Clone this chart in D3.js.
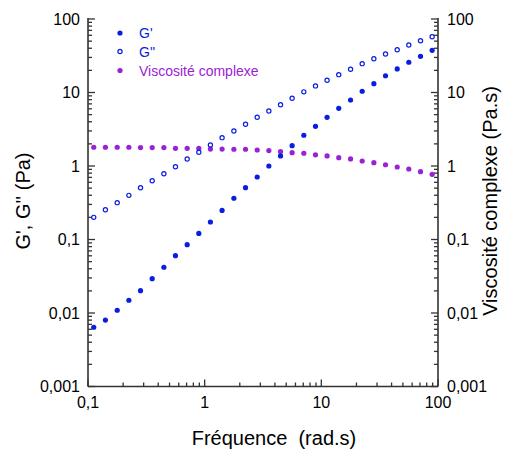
<!DOCTYPE html>
<html><head><meta charset="utf-8">
<script src="https://cdn.jsdelivr.net/npm/d3@7"></script>
<style>body{margin:0;background:#fff}svg{display:block;font-family:"Liberation Sans",Arial,sans-serif}</style>
</head><body><svg id="c" width="507" height="452"></svg>
<script>
const freq = [0.112,0.141,0.178,0.224,0.282,0.355,0.447,0.562,0.708,0.891,1.12,1.41,1.78,2.24,2.82,3.55,4.47,5.62,7.08,8.91,11.2,14.1,17.8,22.4,28.2,35.5,44.7,56.2,70.8,89.1];
const gPrime = [0.0064,0.0080,0.0109,0.0149,0.0201,0.0293,0.0419,0.0602,0.0850,0.121,0.173,0.249,0.364,0.507,0.708,1.00,1.37,1.89,2.62,3.47,4.60,6.10,7.91,10.4,13.2,16.9,20.9,25.8,31.1,37.5];
const gDouble = [0.200,0.254,0.317,0.399,0.507,0.631,0.785,0.978,1.245,1.54,1.93,2.43,2.99,3.69,4.60,5.60,6.82,8.34,10.2,12.3,14.7,17.5,20.7,24.7,28.8,33.4,38.2,44.3,50.7,57.4];
const viscosity = [1.80,1.80,1.80,1.80,1.78,1.78,1.78,1.74,1.74,1.74,1.70,1.70,1.69,1.69,1.65,1.62,1.57,1.52,1.49,1.42,1.37,1.30,1.25,1.17,1.11,1.04,0.969,0.910,0.836,0.771];
const yTicks = [0.001,0.01,0.1,1,10,100];
const yTickLabels = ["0,001","0,01","0,1","1","10","100"];
const xTicks = [0.1,1,10,100];
const xTickLabels = ["0,1","1","10","100"];
const legendLabels = ["G'","G''","Viscosité complexe"];

const blue = "#0a1ee0", purple = "#9a22d6", axisCol = "#333";
const L = 88, R = 438, T = 19, B = 386.5;
const svg = d3.select("#c");
const x = d3.scaleLog().domain([0.1,100]).range([L,R]);
const y = d3.scaleLog().domain([0.001,100]).range([B,T]);
const y2 = d3.scaleLog().domain([0.001,100]).range([B,T]);

const minors = [];
for (let e=-3;e<2;e++) for (let m=2;m<=9;m++) minors.push(m*Math.pow(10,e));
const xMinors = [];
for (let e=-1;e<2;e++) for (let m=2;m<=9;m++) xMinors.push(m*Math.pow(10,e));

const g = svg.append("g");
yTicks.forEach(v=>g.append("line").attr("x1",L).attr("x2",L+7).attr("y1",y(v)).attr("y2",y(v)));
minors.forEach(v=>g.append("line").attr("x1",L).attr("x2",L+4).attr("y1",y(v)).attr("y2",y(v)));
yTicks.forEach(v=>g.append("line").attr("x1",R).attr("x2",R-7).attr("y1",y2(v)).attr("y2",y2(v)));
minors.forEach(v=>g.append("line").attr("x1",R).attr("x2",R-4).attr("y1",y2(v)).attr("y2",y2(v)));
xTicks.forEach(v=>g.append("line").attr("x1",x(v)).attr("x2",x(v)).attr("y1",B).attr("y2",B-7));
xMinors.forEach(v=>g.append("line").attr("x1",x(v)).attr("x2",x(v)).attr("y1",B).attr("y2",B-4));
g.selectAll("line").attr("stroke",axisCol).attr("stroke-width",1.3);
svg.append("line").attr("x1",L).attr("x2",L).attr("y1",T-1).attr("y2",B).attr("stroke",axisCol).attr("stroke-width",1.6);
svg.append("line").attr("x1",R).attr("x2",R).attr("y1",T-1).attr("y2",B).attr("stroke",axisCol).attr("stroke-width",1.6);
svg.append("line").attr("x1",L).attr("x2",R).attr("y1",B).attr("y2",B).attr("stroke",axisCol).attr("stroke-width",1.6);

yTicks.forEach((v,i)=>{
  svg.append("text").attr("x",L-8).attr("y",y(v)+5.8).attr("text-anchor","end").attr("font-size",16).text(yTickLabels[i]);
  svg.append("text").attr("x",R+9).attr("y",y2(v)+5.8).attr("text-anchor","start").attr("font-size",16).text(yTickLabels[i]);
});
xTicks.forEach((v,i)=>{
  svg.append("text").attr("x",x(v)).attr("y",B+21.5).attr("text-anchor","middle").attr("font-size",16).text(xTickLabels[i]);
});

svg.append("text").attr("transform","translate(30,201) rotate(-90)").attr("text-anchor","middle").attr("font-size",20).text("G', G'' (Pa)");
svg.append("text").attr("transform","translate(497,201) rotate(-90)").attr("text-anchor","middle").attr("font-size",20).text("Viscosité complexe (Pa.s)");
svg.append("text").attr("x",274).attr("y",445).attr("text-anchor","middle").attr("font-size",20).style("white-space","pre").text("Fréquence  (rad.s)");

const data = freq.map((f,i)=>({f,gp:gPrime[i],gd:gDouble[i],v:viscosity[i]}));
svg.append("g").selectAll("circle").data(data).join("circle")
  .attr("cx",d=>x(d.f)).attr("cy",d=>y2(d.v)).attr("r",2.6).attr("fill",purple);
svg.append("g").selectAll("circle").data(data).join("circle")
  .attr("cx",d=>x(d.f)).attr("cy",d=>y(d.gd)).attr("r",2.1).attr("fill","none").attr("stroke",blue).attr("stroke-width",1.2);
svg.append("g").selectAll("circle").data(data).join("circle")
  .attr("cx",d=>x(d.f)).attr("cy",d=>y(d.gp)).attr("r",2.6).attr("fill",blue);

const leg = svg.append("g");
const ly = [33,51.5,70.5];
leg.append("circle").attr("cx",120).attr("cy",ly[0]).attr("r",2.6).attr("fill",blue);
leg.append("circle").attr("cx",120).attr("cy",ly[1]).attr("r",2.1).attr("fill","none").attr("stroke",blue).attr("stroke-width",1.2);
leg.append("circle").attr("cx",120).attr("cy",ly[2]).attr("r",2.6).attr("fill",purple);
legendLabels.forEach((t,i)=>{
  leg.append("text").attr("x",139).attr("y",ly[i]+5).attr("font-size",14).attr("fill",i<2?blue:purple).text(t);
});
</script></body></html>
